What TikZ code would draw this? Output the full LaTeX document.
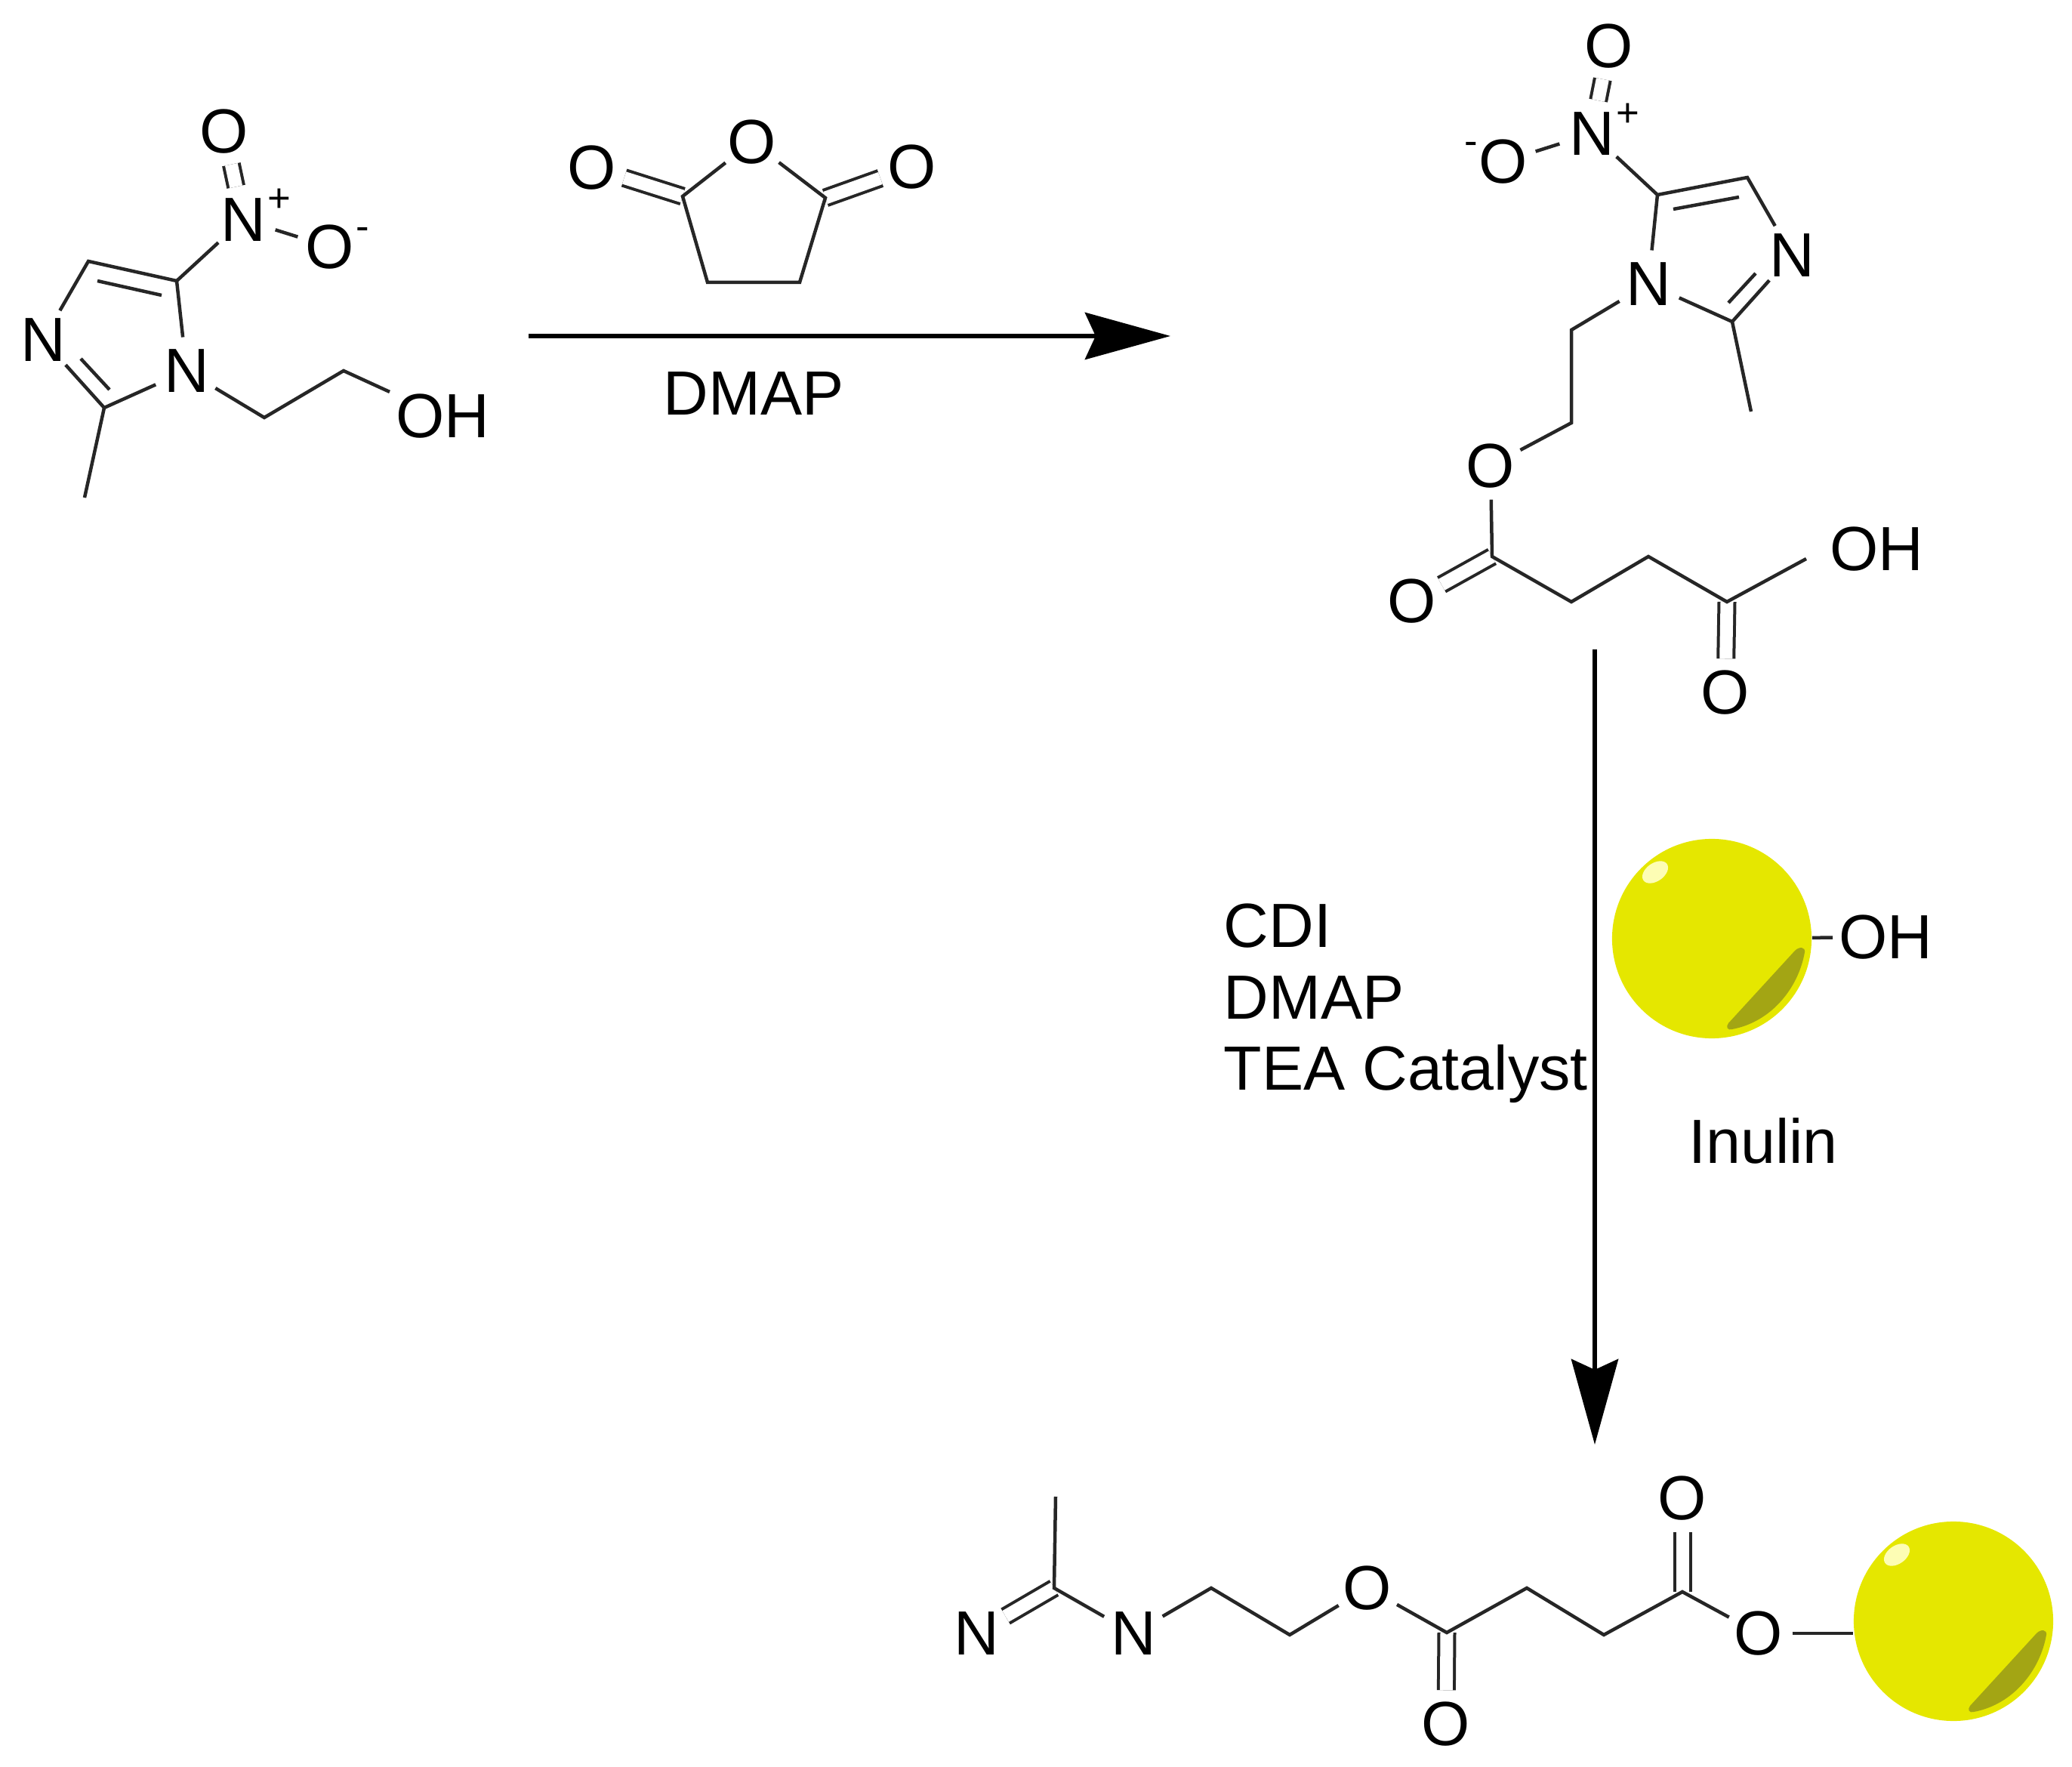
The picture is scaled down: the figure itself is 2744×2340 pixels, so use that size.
\documentclass[tikz,border=0pt]{standalone}
\usepackage{fontspec}
\setmainfont{Liberation Sans}
\usetikzlibrary{arrows.meta}
\definecolor{ballyellow}{HTML}{E5E700}
\definecolor{ballshade}{HTML}{A3A514}
\definecolor{ballshine}{HTML}{FDFDB4}
\tikzset{
  atom/.style={circle,inner sep=0pt,minimum size=.88cm,font=\fontsize{23.5}{27}\selectfont},
  group/.style={inner sep=0pt,outer sep=.08cm,font=\fontsize{23.5}{27}\selectfont},
  charge/.style={inner sep=0pt,font=\fontsize{15}{18}\selectfont},
  reagent/.style={inner sep=0pt,font=\fontsize{23.5}{27}\selectfont},
  bond/.style={line width=.045cm,black!85},
  dbond/.style={line width=.04cm,double=white,double distance=.17cm,black!85},
  reaction/.style={line width=.06cm,-{Stealth[length=1.13cm,width=.62cm,inset=.14cm]}},
  inulin/.pic={
    \node[circle,fill=ballyellow,inner sep=0pt,minimum size=2.64cm] (-body) at (0,0) {};
    \fill[ballshine] (-75,-88) ellipse [x radius=.19cm,y radius=.12cm,rotate=35];
    \fill[ballshade] (123,18) .. controls (115,64) and (80,110) .. (27,120)
      .. controls (21,122) and (18,117) .. (22,112) -- (110,16)
      .. controls (116,10) and (124,11) .. (123,18);
  }
}
\begin{document}
\begin{tikzpicture}[x=.01cm,y=-.01cm]
  \useasboundingbox (0,0) rectangle (2744,2340);

  % starting material
  \node[atom] (aOtop) at (297,174) {O};
  \node[atom] (aNp) at (322,291) {N};
  \node[charge] (aPlus) at (370,265) {+};
  \node[atom] (aOm) at (437,327) {O};
  \node[charge] (aMinus) at (480,309) {-};
  \node[atom] (aN3) at (57,450) {N};
  \node[atom] (aN1) at (247,491) {N};
  \node[group] (aOH) at (586,551) {OH};
  \coordinate (aC5) at (234,372);
  \coordinate (aC4) at (117,346);
  \coordinate (aC2) at (138,540);
  \coordinate (aMe) at (112,659);
  \coordinate (aCa) at (350,553);
  \coordinate (aCb) at (455,491);
  \coordinate (aI1) at (129,372);
  \coordinate (aI2) at (214,391);
  \coordinate (aI3) at (107,475);
  \coordinate (aI4) at (145,516);
  \draw[dbond] (aNp) -- (aOtop);
  \draw[bond] (aNp) -- (aOm);
  \draw[bond] (aNp) -- (aC5) -- (aC4) -- (aN3);
  \draw[bond] (aN3) -- (aC2) -- (aN1) -- (aC5);
  \draw[bond] (aI1) -- (aI2);
  \draw[bond] (aI3) -- (aI4);
  \draw[bond] (aC2) -- (aMe);
  \draw[bond] (aN1) -- (aCa) -- (aCb) -- (aOH);

  % anhydride over the first arrow
  \node[atom] (bO) at (996,188) {O};
  \node[atom] (bOl) at (784,222) {O};
  \node[atom] (bOr) at (1208,221) {O};
  \coordinate (bCl) at (904,260);
  \coordinate (bCr) at (1093,262);
  \coordinate (bHl) at (937,374);
  \coordinate (bHr) at (1059,374);
  \draw[dbond] (bCl) -- (bOl);
  \draw[dbond] (bCr) -- (bOr);
  \draw[bond] (bO) -- (bCl) -- (bHl) -- (bHr) -- (bCr) -- (bO);

  \coordinate (arrAs) at (700,445);
  \coordinate (arrAe) at (1550,445);
  \draw[reaction] (arrAs) -- (arrAe);
  \node[reagent] (dmapA) at (998,521) {DMAP};

  % intermediate
  \node[atom] (cOtop) at (2131,61) {O};
  \node[atom] (cNp) at (2108,177) {N};
  \node[charge] (cPlus) at (2156,152) {+};
  \node[atom] (cOm) at (1991,214) {O};
  \node[charge] (cMinus) at (1948,196) {-};
  \node[atom] (cN3) at (2373,338) {N};
  \node[atom] (cN1) at (2183,376) {N};
  \node[atom] (cO) at (1974,617) {O};
  \node[atom] (cOl) at (1870,796) {O};
  \node[atom] (cOb) at (2285,917) {O};
  \node[group] (cOH) at (2485,727) {OH};
  \coordinate (cC5) at (2195,258);
  \coordinate (cC4) at (2314,235);
  \coordinate (cC2) at (2294,426);
  \coordinate (cMe) at (2319,545);
  \coordinate (cCa) at (2081,437);
  \coordinate (cCb) at (2081,560);
  \coordinate (cCc) at (1976,737);
  \coordinate (cCd) at (2081,797);
  \coordinate (cCe) at (2183,737);
  \coordinate (cCf) at (2287,797);
  \coordinate (cCg) at (2392,740);
  \coordinate (cI1) at (2216,277);
  \coordinate (cI2) at (2303,261);
  \coordinate (cI3) at (2289,401);
  \coordinate (cI4) at (2325,362);
  \draw[dbond] (cNp) -- (cOtop);
  \draw[dbond] (cCc) -- (cOl);
  \draw[dbond] (cCf) -- (cOb);
  \draw[bond] (cNp) -- (cOm);
  \draw[bond] (cNp) -- (cC5) -- (cC4) -- (cN3);
  \draw[bond] (cN3) -- (cC2) -- (cN1) -- (cC5);
  \draw[bond] (cI1) -- (cI2);
  \draw[bond] (cI3) -- (cI4);
  \draw[bond] (cC2) -- (cMe);
  \draw[bond] (cN1) -- (cCa) -- (cCb) -- (cO) -- (cCc) -- (cCd) -- (cCe) -- (cCf) -- (cCg);

  \coordinate (arrBs) at (2112,860);
  \coordinate (arrBe) at (2112,1913);
  \draw[reaction] (arrBs) -- (arrBe);
  \node[reagent,anchor=west] (cdi) at (1620,1226) {CDI};
  \node[reagent,anchor=west] (dmapB) at (1620,1321) {DMAP};
  \node[reagent,anchor=west] (tea) at (1620,1422) {TEA Catalyst};

  % inulin
  \pic (ballA) at (2267,1243) {inulin};
  \node[group] (dOH) at (2497,1241) {OH};
  \draw[bond] (ballA-body) -- (dOH);
  \node[reagent] (inu) at (2335,1511) {Inulin};

  % product
  \pic (ballB) at (2587,2147) {inulin};
  \node[atom] (eNl) at (1293,2163) {N};
  \node[atom] (eNr) at (1501,2163) {N};
  \node[atom] (eO) at (1811,2103) {O};
  \node[atom] (eOb) at (1915,2283) {O};
  \node[atom] (eOt) at (2228,1984) {O};
  \node[atom] (eOe) at (2329,2163) {O};
  \coordinate (eMe) at (1398,1982);
  \coordinate (eC) at (1396,2103);
  \coordinate (eCa) at (1604,2103);
  \coordinate (eCb) at (1708,2165);
  \coordinate (eCc) at (1916,2162);
  \coordinate (eCd) at (2022,2103);
  \coordinate (eCe) at (2124,2165);
  \coordinate (eCf) at (2228,2108);
  \draw[dbond] (eC) -- (eNl);
  \draw[dbond] (eCc) -- (eOb);
  \draw[dbond] (eCf) -- (eOt);
  \draw[bond] (eMe) -- (eC) -- (eNr) -- (eCa) -- (eCb) -- (eO) -- (eCc) -- (eCd) -- (eCe) -- (eCf) -- (eOe);
  \draw[bond] (eOe) -- (ballB-body.west |- eOe);
\end{tikzpicture}
\end{document}
